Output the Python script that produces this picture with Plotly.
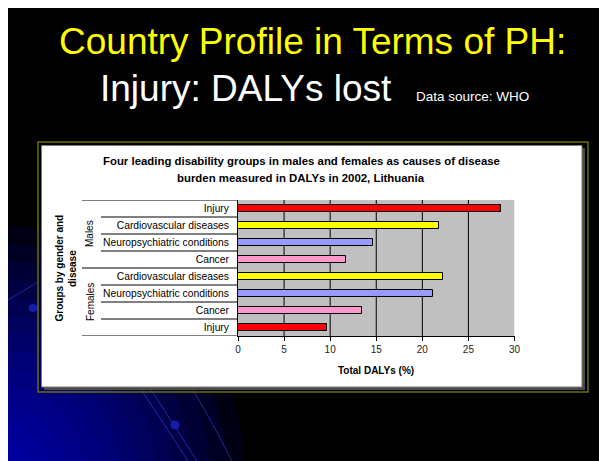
import plotly.graph_objects as go

OFF = 8          # page body margin of the html page
W, H = 607 - OFF, 461 - OFF

# ---- data ----
categories = ["Injury", "Cardiovascular diseases", "Neuropsychiatric conditions", "Cancer",
              "Cardiovascular diseases", "Neuropsychiatric conditions", "Cancer", "Injury"]
groups = ["Males", "Females"]
group_sizes = [4, 4]
values = [28.5, 21.8, 14.7, 11.7, 22.2, 21.2, 13.4, 9.7]
bar_colors = ["#FF0000", "#FFFF00", "#9999FF", "#FF99CC",
              "#FFFF00", "#9999FF", "#FF99CC", "#FF0000"]
x_ticks = [0, 5, 10, 15, 20, 25, 30]
x_grid = [5, 10, 15, 20, 25]

FONT = "Arial, 'Liberation Sans', sans-serif"


def px(x):
    return (x - OFF) / W


def py(y):
    return 1 - (y - OFF) / H


positions = list(range(len(categories)))

fig = go.Figure()
fig.add_trace(go.Bar(
    x=values, y=positions, orientation="h", width=0.42,
    marker=dict(color=bar_colors, line=dict(color="black", width=1)),
    hoverinfo="skip", showlegend=False,
))

shapes = []
# blue glow in lower-left of slide
n = 14
for i in range(n):
    r = 250 - i * (230 / (n - 1))
    cx, cy = -5, 475
    shapes.append(dict(type="circle", xref="paper", yref="paper",
                       x0=px(cx - r), x1=px(cx + r), y0=py(cy + r), y1=py(cy - r),
                       fillcolor="rgb(0,0,255)", opacity=0.075, line=dict(width=0),
                       layer="below"))
# decorative arcs and dots
arc_col = "rgba(40,50,190,0.8)"
for (a, b, c) in [((140, 388), (165, 425), (188, 461)),
                  ((150, 388), (176, 428), (197, 461)),
                  ((192, 388), (214, 425), (232, 461)),
                  ((8, 300), (25, 290), (38, 282))]:
    path = "M %f,%f Q %f,%f %f,%f" % (px(a[0]), py(a[1]), px(b[0]), py(b[1]), px(c[0]), py(c[1]))
    shapes.append(dict(type="path", xref="paper", yref="paper", path=path,
                       line=dict(color=arc_col, width=1), layer="below"))
for (cx, cy, r) in [(175, 425, 4.5), (33, 308, 4)]:
    shapes.append(dict(type="circle", xref="paper", yref="paper",
                       x0=px(cx - r), x1=px(cx + r), y0=py(cy + r), y1=py(cy - r),
                       fillcolor="rgb(20,30,170)", line=dict(width=0), layer="below"))
# olive frame
shapes.append(dict(type="rect", xref="paper", yref="paper", x0=px(38), x1=px(588),
                   y0=py(392), y1=py(142), line=dict(color="#6E6E00", width=1.5),
                   fillcolor="rgba(0,0,0,0)", layer="below"))
# shadow + white panel
shapes.append(dict(type="rect", xref="paper", yref="paper", x0=px(44), x1=px(585),
                   y0=py(390), y1=py(148), fillcolor="#4A4A4A", line=dict(width=0),
                   layer="below"))
shapes.append(dict(type="rect", xref="paper", yref="paper", x0=px(41.5), x1=px(582),
                   y0=py(387), y1=py(145.5), fillcolor="white",
                   line=dict(color="#7A7A7A", width=1), layer="below"))
# plot area
shapes.append(dict(type="rect", xref="x", yref="y domain", x0=x_ticks[0], x1=x_ticks[-1],
                   y0=0, y1=1, fillcolor="#C0C0C0", line=dict(width=0), layer="below"))
for g in x_grid:
    shapes.append(dict(type="line", xref="x", yref="y domain", x0=g, x1=g, y0=0, y1=1,
                       line=dict(color="black", width=1), layer="below"))
# row separators in label area
group_edges = [-0.5]
acc = -0.5
for s in group_sizes:
    acc += s
    group_edges.append(acc)
for k in range(len(categories) + 1):
    b = k - 0.5
    x0 = px(82) if b in group_edges else px(101)
    shapes.append(dict(type="line", xref="paper", yref="y", x0=x0, x1=px(238),
                       y0=b, y1=b, line=dict(color="black", width=1)))

annotations = []
annotations.append(dict(text="Country Profile in Terms of PH:", xref="paper", yref="paper",
                        x=px(312.5), y=py(42), xanchor="center", yanchor="middle",
                        showarrow=False, font=dict(family=FONT, size=37, color="#FFFF00")))
annotations.append(dict(text="Injury: DALYs lost", xref="paper", yref="paper",
                        x=px(98), y=py(88), xanchor="left", yanchor="middle",
                        showarrow=False, font=dict(family=FONT, size=37, color="white")))
annotations.append(dict(text="Data source: WHO", xref="paper", yref="paper",
                        x=px(414), y=py(96.5), xanchor="left", yanchor="middle",
                        showarrow=False, font=dict(family=FONT, size=13.5, color="white")))
annotations.append(dict(text="<b>Four leading disability groups in males and females as causes of disease</b>",
                        xref="paper", yref="paper", x=px(301), y=py(161), xanchor="center",
                        yanchor="middle", showarrow=False,
                        font=dict(family=FONT, size=11.4, color="black")))
annotations.append(dict(text="<b>burden measured in DALYs in 2002, Lithuania</b>",
                        xref="paper", yref="paper", x=px(301), y=py(177.5), xanchor="center",
                        yanchor="middle", showarrow=False,
                        font=dict(family=FONT, size=11.4, color="black")))
annotations.append(dict(text="<b>Groups by gender and</b>", xref="paper", yref="paper",
                        x=px(59), y=py(268.5), textangle=-90, xanchor="center",
                        yanchor="middle", showarrow=False,
                        font=dict(family=FONT, size=10, color="black")))
annotations.append(dict(text="<b>disease</b>", xref="paper", yref="paper",
                        x=px(72.5), y=py(268.5), textangle=-90, xanchor="center",
                        yanchor="middle", showarrow=False,
                        font=dict(family=FONT, size=10, color="black")))
start = 0
for gname, s in zip(groups, group_sizes):
    mid = start + (s - 1) / 2
    annotations.append(dict(text=gname, xref="paper", yref="y", x=px(90), y=mid,
                            textangle=-90, xanchor="center", yanchor="middle",
                            showarrow=False, font=dict(family=FONT, size=10, color="black")))
    start += s
annotations.append(dict(text="<b>Total DALYs (%)</b>", xref="x", yref="paper",
                        x=(x_ticks[0] + x_ticks[-1]) / 2, y=py(370), xanchor="center",
                        yanchor="middle", showarrow=False,
                        font=dict(family=FONT, size=10, color="black")))

fig.update_layout(
    width=W, height=H,
    margin=dict(l=0, r=0, t=0, b=0, pad=0, autoexpand=False),
    paper_bgcolor="black",
    plot_bgcolor="rgba(0,0,0,0)",
    bargap=0,
    shapes=shapes,
    annotations=annotations,
    xaxis=dict(domain=[px(238), px(514.5)], range=[x_ticks[0], x_ticks[-1]],
               tickvals=x_ticks, showgrid=False, zeroline=False, showline=True,
               linecolor="black", linewidth=1, ticks="outside", ticklen=4,
               tickcolor="black", tickfont=dict(family=FONT, size=10, color="#222"),
               fixedrange=True, automargin=False),
    yaxis=dict(domain=[py(336), py(200)], range=[len(categories) - 0.5, -0.5],
               tickvals=positions, ticktext=categories, showgrid=False, zeroline=False,
               showline=True, linecolor="black", linewidth=1, ticks="",
               ticklabelstandoff=6, tickfont=dict(family=FONT, size=10.3, color="black"),
               fixedrange=True, automargin=False),
)

fig.write_html("out.html", config={"displayModeBar": False})
